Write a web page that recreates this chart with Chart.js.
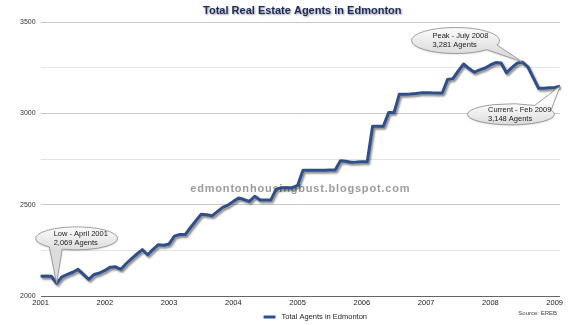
<!DOCTYPE html>
<html>
<head>
<meta charset="utf-8">
<script src="https://cdn.jsdelivr.net/npm/chart.js@4.4.1/dist/chart.umd.min.js"></script>
<style>
  html, body { margin: 0; padding: 0; background: #fff; }
  #chart { display: block; }
</style>
</head>
<body>
<canvas id="chart" width="570" height="325"></canvas>
<script>
// monthly agent counts, Jan 2001 .. Feb 2009
const agents = [
  2108, 2110, 2108, 2069, 2105, 2118, 2130, 2146, 2118, 2091, 2118, 2126,
  2140, 2158, 2160, 2146, 2178, 2205, 2230, 2254, 2226, 2255, 2281, 2278,
  2285, 2328, 2337, 2336, 2375, 2412, 2448, 2445, 2439, 2462, 2485, 2498,
  2518, 2537, 2528, 2518, 2546, 2526, 2526, 2526, 2585, 2593, 2593, 2593,
  2605, 2689, 2689, 2689, 2689, 2689, 2690, 2690, 2741, 2738, 2732, 2733,
  2735, 2735, 2929, 2929, 2929, 3004, 3004, 3105, 3105, 3106, 3108, 3112,
  3112, 3112, 3111, 3111, 3185, 3190, 3232, 3270, 3245, 3225, 3238, 3248,
  3265, 3278, 3276, 3222, 3250, 3275, 3281, 3255, 3195, 3137, 3137, 3140,
  3142, 3148
];
const years = ['2001', '2002', '2003', '2004', '2005', '2006', '2007', '2008', '2009'];
const monthNums = ['01', '02', '03', '04', '05', '06', '07', '08', '09', '10', '11', '12'];
const yTicks = [2000, 2500, 3000, 3500];

// callouts: which month they point at, and their text
const callouts = [
  { index: 3, lines: ['Low - April 2001', '2,069 Agents'], dx: 20, dy: -45, rx: 41, ry: 11.5, a1: 1.93, a2: 2.3 },
  { index: 90, lines: ['Peak - July 2008', '3,281 Agents'], dx: -67, dy: -21.5, rx: 44, ry: 13, a1: 0.35, a2: 0.78 },
  { index: 97, lines: ['Current - Feb 2009', '3,148 Agents'], dx: -49, dy: 28, rx: 43.5, ry: 10.5, a1: -1.0, a2: -0.4 }
];

const months = [];
years.forEach(y => monthNums.forEach(m => { if (months.length < agents.length) months.push(y + '-' + m); }));

const FONT = "'Liberation Sans', Arial, Helvetica, sans-serif";
const LINE_COLOR = '#2f4f8a';

const lineShadow = {
  id: 'lineShadow',
  beforeDatasetDraw(chart) {
    const ctx = chart.ctx;
    ctx.save();
    ctx.shadowColor = 'rgba(0,0,0,0.45)';
    ctx.shadowBlur = 2;
    ctx.shadowOffsetX = 1.5;
    ctx.shadowOffsetY = 2;
  },
  afterDatasetDraw(chart) {
    chart.ctx.restore();
  }
};

const extras = {
  id: 'extras',
  beforeDatasetsDraw(chart) {
    const ctx = chart.ctx;
    const area = chart.chartArea;
    const mid = (area.left + area.right) / 2;

    // title with a soft shadow
    ctx.save();
    ctx.font = 'bold 11px ' + FONT;
    ctx.textAlign = 'center';
    ctx.textBaseline = 'middle';
    ctx.shadowColor = 'rgba(0,0,0,0.4)';
    ctx.shadowBlur = 2;
    ctx.shadowOffsetX = 1;
    ctx.shadowOffsetY = 1;
    ctx.fillStyle = '#1d2a5c';
    ctx.fillText('Total Real Estate Agents in Edmonton', mid + 2, 11);
    ctx.restore();

    // watermark
    ctx.save();
    ctx.font = 'bold 11px ' + FONT;
    ctx.letterSpacing = '0.8px';
    ctx.fillStyle = '#9c9c9c';
    ctx.textAlign = 'center';
    ctx.textBaseline = 'middle';
    ctx.fillText('edmontonhousingbust.blogspot.com', mid, area.top + 167);
    ctx.restore();

    // legend
    const ds = chart.data.datasets[0];
    ctx.save();
    ctx.font = '7.5px ' + FONT;
    const label = ds.label;
    const tw = ctx.measureText(label).width;
    const lx = mid + 15 - (tw + 18) / 2;
    const ly = area.bottom + 21;
    ctx.strokeStyle = ds.borderColor;
    ctx.lineWidth = 3;
    ctx.beginPath();
    ctx.moveTo(lx, ly);
    ctx.lineTo(lx + 12, ly);
    ctx.stroke();
    ctx.fillStyle = '#222';
    ctx.textBaseline = 'middle';
    ctx.fillText(label, lx + 18, ly);
    ctx.restore();
  },
  afterDatasetsDraw(chart) {
    const ctx = chart.ctx;
    const xs = chart.scales.x, ys = chart.scales.y;
    callouts.forEach(c => {
      const px = xs.getPixelForValue(c.index);
      const py = ys.getPixelForValue(agents[c.index]);
      const cx = px + c.dx, cy = py + c.dy;
      ctx.save();
      const g = ctx.createLinearGradient(0, cy - c.ry, 0, cy + c.ry);
      g.addColorStop(0, '#fbfbfb');
      g.addColorStop(1, '#dcdcdc');
      ctx.beginPath();
      ctx.ellipse(cx, cy, c.rx, c.ry, 0, c.a2, c.a1 + Math.PI * 2);
      ctx.lineTo(px, py);
      ctx.closePath();
      ctx.shadowColor = 'rgba(0,0,0,0.15)';
      ctx.shadowBlur = 2;
      ctx.shadowOffsetY = 1;
      ctx.fillStyle = g;
      ctx.fill();
      ctx.shadowColor = 'transparent';
      ctx.strokeStyle = '#8a8a8a';
      ctx.lineWidth = 0.8;
      ctx.stroke();
      ctx.fillStyle = '#222';
      ctx.font = '7.5px ' + FONT;
      ctx.textAlign = 'left';
      ctx.textBaseline = 'middle';
      ctx.fillText(c.lines[0], cx - 23, cy - 4.5);
      ctx.fillText(c.lines[1], cx - 23, cy + 4.5);
      ctx.restore();
    });
    ctx.save();
    ctx.font = '6px ' + FONT;
    ctx.fillStyle = '#444';
    ctx.textAlign = 'right';
    ctx.textBaseline = 'middle';
    ctx.fillText('Source: EREB', chart.chartArea.right - 3, chart.chartArea.bottom + 17);
    ctx.restore();
  }
};

new Chart(document.getElementById('chart'), {
  type: 'line',
  data: {
    labels: months,
    datasets: [{
      label: 'Total Agents in Edmonton',
      data: agents,
      borderColor: LINE_COLOR,
      backgroundColor: LINE_COLOR,
      borderWidth: 3,
      pointRadius: 0,
      tension: 0,
      borderJoinStyle: 'round',
      fill: false
    }]
  },
  options: {
    responsive: false,
    animation: false,
    devicePixelRatio: 1,
    layout: { padding: { left: 15, right: 10, top: 22, bottom: 16 } },
    scales: {
      x: {
        grid: { display: false, drawTicks: false },
        border: { display: false },
        ticks: {
          autoSkip: false,
          maxRotation: 0,
          padding: 2,
          color: '#222',
          font: { family: FONT, size: 7.5 },
          callback: (v, i) => months[i].endsWith('-01') ? months[i].slice(0, 4) : null
        }
      },
      y: {
        min: 2000,
        max: 3500,
        border: { display: false },
        grid: {
          drawTicks: false,
          lineWidth: 1,
          color: ctx => ctx.tick.value === 2000 ? '#666' : (yTicks.includes(ctx.tick.value) ? '#c8c8c8' : '#e4e4e4')
        },
        ticks: {
          stepSize: 250,
          padding: 5,
          color: '#333',
          font: { family: FONT, size: 7 },
          callback: v => yTicks.includes(v) ? String(v) : ''
        }
      }
    },
    plugins: {
      title: { display: false },
      legend: { display: false },
      tooltip: { enabled: false }
    }
  },
  plugins: [lineShadow, extras]
});
</script>
</body>
</html>
